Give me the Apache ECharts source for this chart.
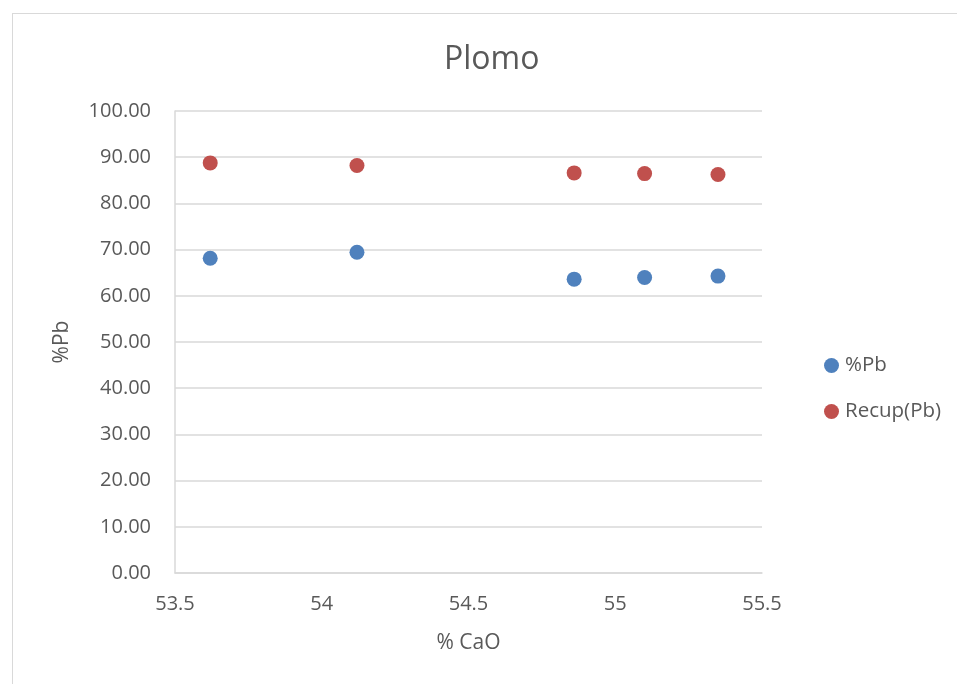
<!DOCTYPE html>
<html>
<head>
<meta charset="utf-8">
<script src="https://cdn.jsdelivr.net/npm/echarts@6/dist/echarts.min.js"></script>
<style>
  html, body { margin: 0; padding: 0; background: #fff; }
  #frame { position: absolute; left: 12px; top: 13px; width: 960px; height: 690px; border: 1px solid #d9d9d9; box-sizing: border-box; }
  #chart { position: absolute; left: 0; top: 0; width: 957px; height: 684px; }
</style>
</head>
<body>
<div id="frame"></div>
<div id="chart"></div>
<script>
// % CaO of each sample
const cao = [53.62, 54.12, 54.86, 55.10, 55.35];
// lead grade (%Pb) and lead recovery for the same samples
const pb = [68.14, 69.44, 63.60, 63.97, 64.26];
const recupPb = [88.77, 88.20, 86.60, 86.45, 86.24];
const yTicks = [0, 10, 20, 30, 40, 50, 60, 70, 80, 90, 100];
const xTicks = [53.5, 54, 54.5, 55, 55.5];

const font = '"Open Sans", "Liberation Sans", sans-serif';
const textColor = '#595959';

const chart = echarts.init(document.getElementById('chart'));
chart.setOption({
  backgroundColor: 'transparent',
  animation: false,
  title: {
    text: 'Plomo',
    left: 439,
    top: 39,
    textStyle: { fontFamily: font, fontSize: 32, fontWeight: 'normal', color: textColor }
  },
  legend: {
    orient: 'vertical',
    left: 819,
    top: 350,
    itemGap: 25,
    itemWidth: 15,
    itemHeight: 15,
    icon: 'circle',
    textStyle: { fontFamily: font, fontSize: 20.5, color: textColor, padding: [0, 0, 0, 1] },
    data: ['%Pb', 'Recup(Pb)']
  },
  grid: { left: 175, right: 195, top: 111, bottom: 111 },
  xAxis: {
    type: 'value',
    min: xTicks[0],
    max: xTicks[xTicks.length - 1],
    interval: 0.5,
    name: '% CaO',
    nameLocation: 'middle',
    nameGap: 60,
    nameTextStyle: { fontFamily: font, fontSize: 21, color: textColor },
    axisLine: { show: true, lineStyle: { color: '#d9d9d9', width: 1.5 } },
    axisTick: { show: false },
    splitLine: { show: false },
    axisLabel: { fontFamily: font, fontSize: 20, color: textColor, margin: 21 }
  },
  yAxis: {
    type: 'value',
    min: yTicks[0],
    max: yTicks[yTicks.length - 1],
    interval: 10,
    name: '%Pb',
    nameLocation: 'middle',
    nameGap: 102,
    nameRotate: 90,
    nameTextStyle: { fontFamily: font, fontSize: 21, color: textColor },
    axisLine: { show: true, lineStyle: { color: '#d9d9d9', width: 1.5 } },
    axisTick: { show: false },
    splitLine: { show: true, lineStyle: { color: '#d9d9d9', width: 1.5 } },
    axisLabel: {
      fontFamily: font, fontSize: 20, color: textColor, margin: 24,
      formatter: v => v.toFixed(2)
    }
  },
  series: [
    {
      name: '%Pb',
      type: 'scatter',
      symbol: 'circle',
      symbolSize: 15,
      itemStyle: { color: '#4f81bd', opacity: 1 },
      data: cao.map((x, i) => [x, pb[i]])
    },
    {
      name: 'Recup(Pb)',
      type: 'scatter',
      symbol: 'circle',
      symbolSize: 15,
      itemStyle: { color: '#c0504d', opacity: 1 },
      data: cao.map((x, i) => [x, recupPb[i]])
    }
  ]
});
</script>
</body>
</html>
